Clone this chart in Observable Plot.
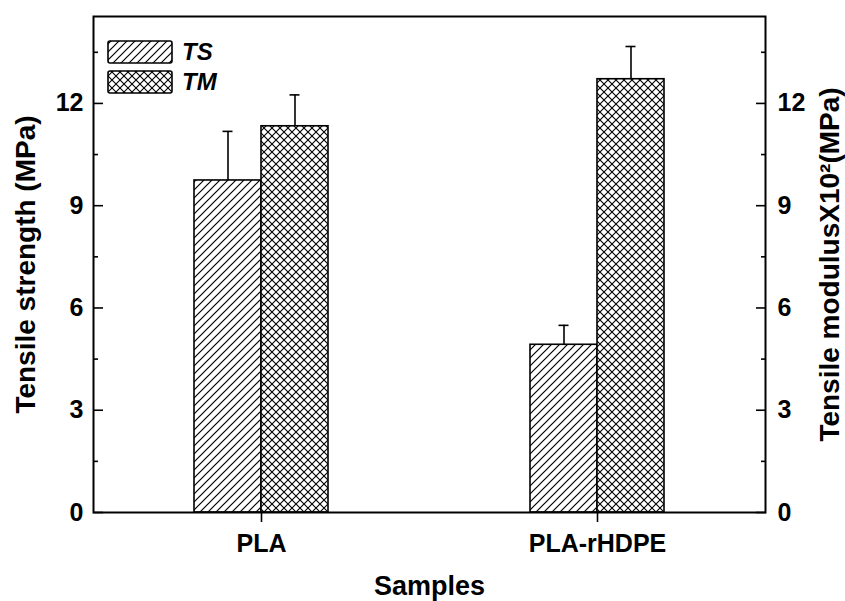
<!DOCTYPE html>
<html>
<head>
<meta charset="utf-8">
<script src="https://cdn.jsdelivr.net/npm/d3@7"></script>
<script src="https://cdn.jsdelivr.net/npm/@observablehq/plot@0.6"></script>
<style>
  html, body { margin: 0; padding: 0; background: #fff; }
  #chart { width: 845px; height: 601px; }
</style>
</head>
<body>
<div id="chart"></div>
<script>
// ---- data ----
const samples = ["PLA", "PLA-rHDPE"];
const tsMean = [9.74, 4.92];   // Tensile strength (MPa)
const tsErr  = [1.44, 0.57];
const tmMean = [11.33, 12.71]; // Tensile modulus x10^2 (MPa)
const tmErr  = [0.92, 0.96];
const yTicks = [0, 3, 6, 9, 12];
const yMinorTicks = [1.5, 4.5, 7.5, 10.5, 13.5];
const yDomain = [0, 14.55];
const seriesNames = ["TS", "TM"];
const xTitle = "Samples";
const yLeftTitle = "Tensile strength (MPa)";
const yRightTitle = "Tensile modulusX10²(MPa)";

const ts = samples.map((s, i) => ({sample: s, v: tsMean[i], hi: tsMean[i] + tsErr[i]}));
const tm = samples.map((s, i) => ({sample: s, v: tmMean[i], hi: tmMean[i] + tmErr[i]}));

// ---- layout ----
const W = 845, H = 601;
const mL = 93, mR = 80, mT = 16, mB = 89;
const bw = (W - mL - mR) / samples.length; // band width
const barW = 67;
const capW = 10;
const half = bw / 2;

const font = "'Liberation Sans', Arial, Helvetica, sans-serif";
const tickFont = 25;
const titleFont = 28;

const plot = Plot.plot({
  width: W, height: H,
  marginLeft: mL, marginRight: mR, marginTop: mT, marginBottom: mB,
  style: {fontFamily: font, fontSize: tickFont + "px", fontWeight: "bold", color: "black", background: "white"},
  x: {type: "band", domain: samples, padding: 0, axis: null},
  y: {domain: yDomain, axis: null},
  marks: [
    // bars
    Plot.barY(ts, {x: "sample", y: "v", fill: "url(#hatchTS)", stroke: "black", strokeWidth: 1.6,
      insetLeft: half - barW, insetRight: half}),
    Plot.barY(tm, {x: "sample", y: "v", fill: "url(#hatchTM)", stroke: "black", strokeWidth: 1.6,
      insetLeft: half, insetRight: half - barW}),
    // error bars
    Plot.ruleX(ts, {x: "sample", y1: "v", y2: "hi", dx: -barW / 2, stroke: "black", strokeWidth: 1.6}),
    Plot.ruleX(tm, {x: "sample", y1: "v", y2: "hi", dx: barW / 2, stroke: "black", strokeWidth: 1.6}),
    Plot.tickY(ts, {x: "sample", y: "hi", stroke: "black", strokeWidth: 1.6,
      insetLeft: half - barW / 2 - capW / 2, insetRight: half + barW / 2 - capW / 2}),
    Plot.tickY(tm, {x: "sample", y: "hi", stroke: "black", strokeWidth: 1.6,
      insetLeft: half + barW / 2 - capW / 2, insetRight: half - barW / 2 - capW / 2}),
    // left axis
    Plot.axisY({anchor: "left", ticks: yTicks, tickSize: 0, tickPadding: 10, fontSize: tickFont, label: null}),
    Plot.axisY({anchor: "left", ticks: yTicks, tickSize: 10, dx: 10, text: null, label: null, strokeWidth: 1.6}),
    Plot.axisY({anchor: "left", ticks: yMinorTicks, tickSize: 5, dx: 5, text: null, label: null, strokeWidth: 1.6}),
    // right axis
    Plot.axisY({anchor: "right", ticks: yTicks, tickSize: 0, tickPadding: 12, fontSize: tickFont, label: null}),
    Plot.axisY({anchor: "right", ticks: yTicks, tickSize: 10, dx: -10, text: null, label: null, strokeWidth: 1.6}),
    Plot.axisY({anchor: "right", ticks: yMinorTicks, tickSize: 5, dx: -5, text: null, label: null, strokeWidth: 1.6}),
    // bottom axis
    Plot.axisX({anchor: "bottom", tickSize: 10, tickPadding: 12, strokeWidth: 1.6, fontSize: tickFont, label: null}),
    // axis titles
    Plot.text([yLeftTitle], {text: d => d, frameAnchor: "left", textAnchor: "middle", lineAnchor: "middle",
      rotate: -90, dx: -67, fontSize: titleFont, fontWeight: "bold"}),
    Plot.text([yRightTitle], {text: d => d, frameAnchor: "right", textAnchor: "middle", lineAnchor: "middle",
      rotate: -90, dx: 65, fontSize: titleFont, fontWeight: "bold"}),
    Plot.text([xTitle], {text: d => d, frameAnchor: "bottom", textAnchor: "middle", lineAnchor: "middle",
      dy: 74, fontSize: 27, fontWeight: "bold"}),
    Plot.frame({stroke: "black", strokeWidth: 2})
  ]
});

// patterns + legend
const svg = d3.select(plot);
const defs = svg.insert("defs", ":first-child");
const pTS = defs.append("pattern").attr("id", "hatchTS").attr("patternUnits", "userSpaceOnUse")
  .attr("width", 8).attr("height", 8);
pTS.append("rect").attr("width", 8).attr("height", 8).attr("fill", "white");
pTS.append("path").attr("d", "M-2,2L2,-2M0,8L8,0M6,10L10,6").attr("stroke", "black").attr("stroke-width", 1.2);
const pTM = defs.append("pattern").attr("id", "hatchTM").attr("patternUnits", "userSpaceOnUse")
  .attr("width", 8).attr("height", 8);
pTM.append("rect").attr("width", 8).attr("height", 8).attr("fill", "white");
pTM.append("path").attr("d", "M-1,-1L9,9M9,-1L-1,9").attr("stroke", "black").attr("stroke-width", 1.1);

const legend = svg.append("g").attr("font-family", font).attr("font-weight", "bold")
  .attr("font-style", "italic").attr("font-size", 24).attr("text-anchor", "start");
seriesNames.forEach((name, i) => {
  const y0 = 41 + i * 30;
  legend.append("rect").attr("x", 108).attr("y", y0).attr("width", 64).attr("height", 22).attr("rx", 2)
    .attr("fill", i === 0 ? "url(#hatchTS)" : "url(#hatchTM)").attr("stroke", "black").attr("stroke-width", 1.6);
  legend.append("text").attr("x", 182).attr("y", y0 + 11).attr("dy", "0.35em").text(name);
});

document.getElementById("chart").appendChild(plot);
</script>
</body>
</html>
